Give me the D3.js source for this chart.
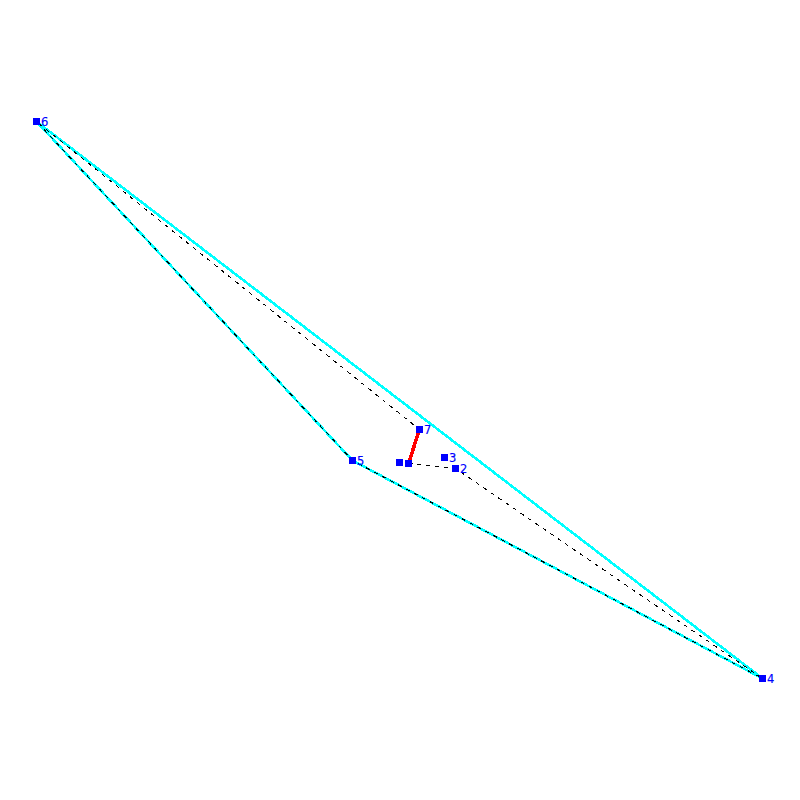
<!DOCTYPE html>
<html>
<head>
<meta charset="utf-8">
<script src="https://d3js.org/d3.v7.min.js"></script>
<style>
    html, body { margin: 0; background: #fff; }
    svg { display: block; }
    text { font-family: "DejaVu Sans", sans-serif; font-size: 11.5px; fill: #0000ff; stroke: #0000ff; stroke-width: 0.15px; }
</style>
</head>
<body>
<svg id="chart" width="800" height="800"></svg>
<script>
const nodeIds = ["0", "1", "2", "3", "4", "5", "6", "7"];
const nodeX = [399.5, 408.5, 455.5, 444.5, 762.5, 352.5, 36.5, 419.5];
const nodeY = [337.5, 336.5, 331.5, 342.5, 121.5, 339.5, 678.5, 370.5];
const nodeLabels = ["", "", "2", "3", "4", "5", "6", "7"];

// paths as node indexes
const hullPath = [6, 4, 5, 6];
const dashedPath = [1, 2, 4, 5, 6, 7];
const redPath = [7, 1];

const SVG = d3.select("#chart");
const xScale = d3.scaleLinear().domain([0, 800]).range([0, 800]);
const yScale = d3.scaleLinear().domain([0, 800]).range([800, 0]);

const line = d3.line().x(d => xScale(d[0])).y(d => yScale(d[1]));
const nodePoint = i => [nodeX[i], nodeY[i]];

SVG.append("path")
    .attr("d", line(hullPath.map(nodePoint)))
    .attr("fill", "none")
    .attr("stroke", "#00ffff")
    .attr("stroke-width", 2.6)
    .attr("shape-rendering", "crispEdges");

SVG.append("path")
    .attr("d", line(dashedPath.map(nodePoint)))
    .attr("fill", "none")
    .attr("stroke", "#000")
    .attr("stroke-width", 1)
    .attr("stroke-dasharray", "4,5")
    .attr("shape-rendering", "crispEdges");

SVG.append("path")
    .attr("d", line(redPath.map(nodePoint)))
    .attr("fill", "none")
    .attr("stroke", "#ff0000")
    .attr("stroke-width", 3.5)
    .attr("shape-rendering", "crispEdges");

// Nodes
SVG.selectAll("rect")
    .data(nodeIds)
    .join("rect")
    .attr("x", (d, i) => xScale(nodeX[i]) - 3.5)
    .attr("y", (d, i) => yScale(nodeY[i]) - 3.5)
    .attr("width", 7)
    .attr("height", 7)
    .attr("fill", "#0000ff");

SVG.selectAll("text")
    .data(nodeIds)
    .join("text")
    .attr("x", (d, i) => xScale(nodeX[i]) + 4.5)
    .attr("y", (d, i) => yScale(nodeY[i]) + 4)
    .text((d, i) => nodeLabels[i]);
</script>
</body>
</html>
